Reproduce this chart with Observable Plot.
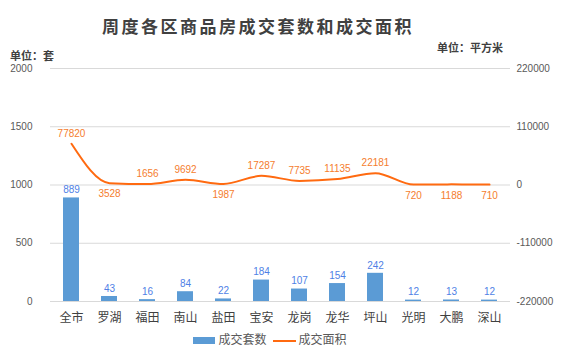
<!DOCTYPE html>
<html><head><meta charset="utf-8">
<script src="https://cdn.jsdelivr.net/npm/d3@7"></script>
<script src="https://cdn.jsdelivr.net/npm/@observablehq/plot@0.6"></script>
<style>
body{margin:0;background:#fff;}
#wrap{position:relative;width:571px;height:352px;font-family:"Liberation Sans","Noto Sans CJK SC",sans-serif;}
.abs{position:absolute;white-space:nowrap;}
#title{left:0;width:516px;top:13px;text-align:center;font:bold 17px "Noto Sans CJK SC";letter-spacing:2.5px;color:#404040;}
#ul{left:10px;top:47px;font:bold 11px "Noto Sans CJK SC";color:#404040;}
#ur{left:437px;top:39px;font:bold 11px "Noto Sans CJK SC";color:#404040;}
#legend{left:0;width:540px;top:330px;text-align:center;font:12px "Noto Sans CJK SC";color:#595959;}
.sw{display:inline-block;vertical-align:middle;}
</style></head>
<body><div id="wrap"></div>
<script>
const categories = ["全市","罗湖","福田","南山","盐田","宝安","龙岗","龙华","坪山","光明","大鹏","深山"];
const units = [889,43,16,84,22,184,107,154,242,12,13,12];
const area = [77820,3528,1656,9692,1987,17287,7735,11135,22181,720,1188,710];
const leftTicks = [0,500,1000,1500,2000];
const rightTicks = [-220000,-110000,0,110000,220000];
const belowLabels = ["罗湖","盐田","光明","大鹏","深山"];
const seriesNames = ["成交套数","成交面积"];
const titleText = "周度各区商品房成交套数和成交面积";
const unitLeft = "单位：套";
const unitRight = "单位：平方米";

const toLeft = v => (v + 220000) / 220;
const rows = categories.map((c,i)=>({c, u:units[i], a:area[i], ay:toLeft(area[i]), below: belowLabels.includes(c)}));

const plot = Plot.plot({
  width:571, height:352,
  marginTop:68, marginBottom:51, marginLeft:50, marginRight:61,
  style:{fontFamily:'"Liberation Sans","Noto Sans CJK SC",sans-serif', fontSize:"10px", color:"#595959"},
  x:{domain:categories, paddingInner:0.58, paddingOuter:0.29, label:null},
  y:{domain:[0,2000], label:null},
  marks:[
    Plot.gridY(leftTicks,{stroke:"#d9d9d9", strokeOpacity:1}),
    Plot.axisY(leftTicks,{anchor:"left", tickSize:0, tickPadding:18, label:null, fill:"#595959", fontSize:10, tickFormat:t=>String(t)}),
    Plot.axisY(leftTicks,{anchor:"right", tickSize:0, tickPadding:6, label:null, fill:"#595959", fontSize:10,
      tickFormat:(t,i)=>String(rightTicks[i])}),
    Plot.axisX({anchor:"bottom", tickSize:0, tickPadding:12, label:null, fill:"#404040", fontSize:12, fontFamily:"Noto Sans CJK SC"}),
    Plot.barY(rows,{x:"c", y:"u", fill:"#5B9BD5"}),
    Plot.text(rows,{x:"c", y:"u", text:d=>String(d.u), dy:-8, fill:"#4F7FE6", fontSize:10}),
    Plot.line(rows,{x:"c", y:"ay", stroke:"#FF6A10", strokeWidth:2, curve:"monotone-x"}),
    Plot.text(rows.filter(d=>!d.below),{x:"c", y:"ay", text:d=>String(d.a), dy:-10, fill:"#F57D2E", fontSize:10}),
    Plot.text(rows.filter(d=>d.below),{x:"c", y:"ay", text:d=>String(d.a), dy:11, fill:"#F57D2E", fontSize:10})
  ]
});
const wrap = document.getElementById("wrap");
wrap.appendChild(plot);
function addDiv(id){const d=document.createElement("div");d.id=id;d.className="abs";wrap.appendChild(d);return d;}
addDiv("title").textContent = titleText;
addDiv("ul").textContent = unitLeft;
addDiv("ur").textContent = unitRight;
const lg = addDiv("legend");
lg.innerHTML = `<span class="sw" style="width:22px;height:7px;background:#5B9BD5;margin-right:3px"></span><span>${seriesNames[0]}</span><span class="sw" style="width:23px;height:2px;background:#FF6A10;margin:0 3px 0 6px"></span><span>${seriesNames[1]}</span>`;
</script></body></html>
